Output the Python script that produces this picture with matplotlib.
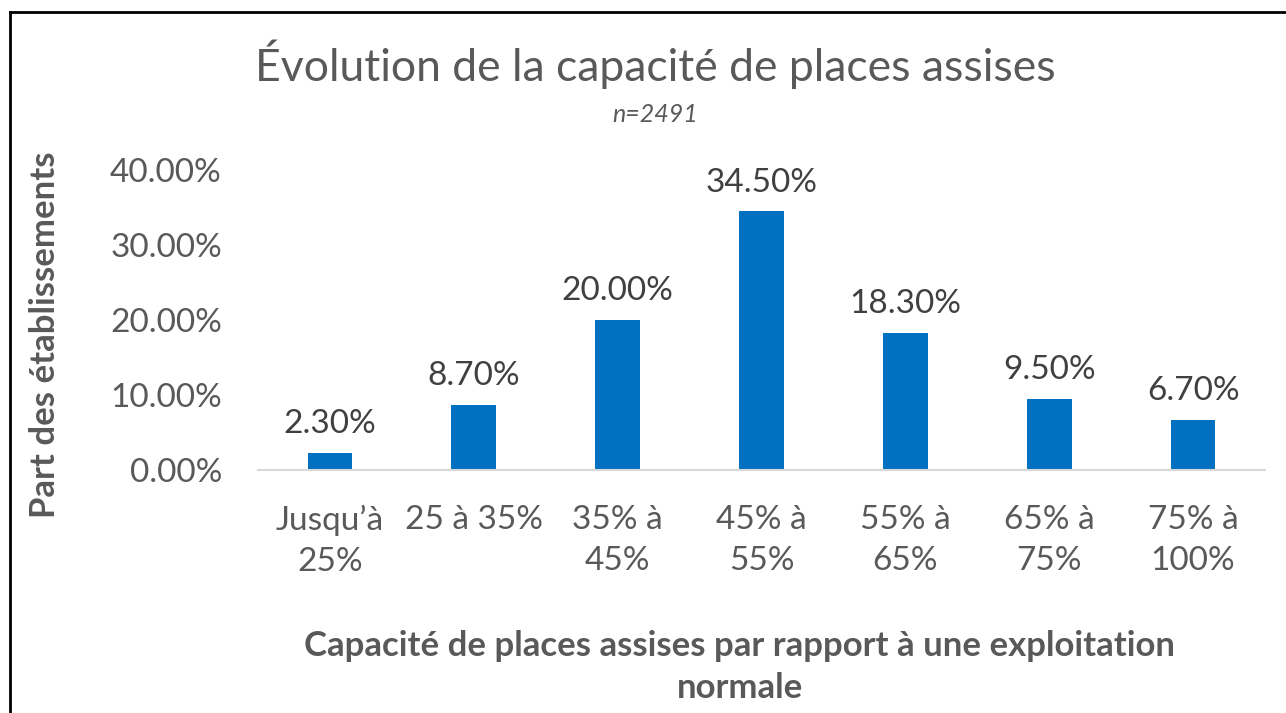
import matplotlib.pyplot as plt
from matplotlib.lines import Line2D
from matplotlib.ticker import FuncFormatter

categories = ["Jusqu\u2019\u00e0\n25%", "25 \u00e0 35%", "35% \u00e0\n45%", "45% \u00e0\n55%",
              "55% \u00e0\n65%", "65% \u00e0\n75%", "75% \u00e0\n100%"]
values = [2.3, 8.7, 20.0, 34.5, 18.3, 9.5, 6.7]
yticks = [0, 10, 20, 30, 40]

plt.rcParams['font.family'] = ['Lato', 'DejaVu Sans']

W, H = 1286, 713
fig = plt.figure(figsize=(W / 100, H / 100), dpi=100)
ax = fig.add_axes([258 / W, 1 - 470 / H, (1265 - 258) / W, (470 - 170) / H])

x = range(len(values))
ax.bar(x, values, width=0.31, color='#0070C0')
for xi, v in zip(x, values):
    ax.text(xi, v + 3.8, f"{v:.2f}%", ha='center', va='center', fontsize=24, color='#404040')

ax.set_xlim(-0.5, len(values) - 0.5)
ax.set_ylim(0, 40)
ax.set_yticks(yticks)
ax.yaxis.set_major_formatter(FuncFormatter(lambda v, p: f"{v:.2f}%"))
ax.set_xticks(list(x))
ax.set_xticklabels(categories, fontsize=24, color='#595959', linespacing=1.45)
ax.tick_params(axis='y', length=0, labelsize=24, labelcolor='#595959', pad=26)
ax.tick_params(axis='x', length=0, pad=25)
for s in ['top', 'right', 'left']:
    ax.spines[s].set_visible(False)
ax.spines['bottom'].set_color('#D9D9D9')
ax.spines['bottom'].set_linewidth(1.5)

fig.text(655 / W, 1 - 64 / H, "\u00c9volution de la capacit\u00e9 de places assises",
         ha='center', va='center', fontsize=32, color='#595959')
fig.text(655 / W, 1 - 115 / H, "n=2491", ha='center', va='center', fontsize=18,
         style='italic', color='#595959')
fig.text(45 / W, 1 - 335 / H, "Part des \u00e9tablissements", rotation=90,
         ha='center', va='center', fontsize=25, fontweight='bold', color='#595959')
fig.text(740 / W, 1 - 667 / H, "Capacit\u00e9 de places assises par rapport \u00e0 une exploitation\nnormale",
         ha='center', va='center', fontsize=25, fontweight='bold', color='#595959', linespacing=1.4)

# chart frame
fig.add_artist(Line2D([10 / W, 10 / W], [0, 1 - 12 / H], color='black', lw=2))
fig.add_artist(Line2D([10 / W, 1], [1 - 12 / H, 1 - 12 / H], color='black', lw=2))

fig.savefig("out.png", dpi=100)
